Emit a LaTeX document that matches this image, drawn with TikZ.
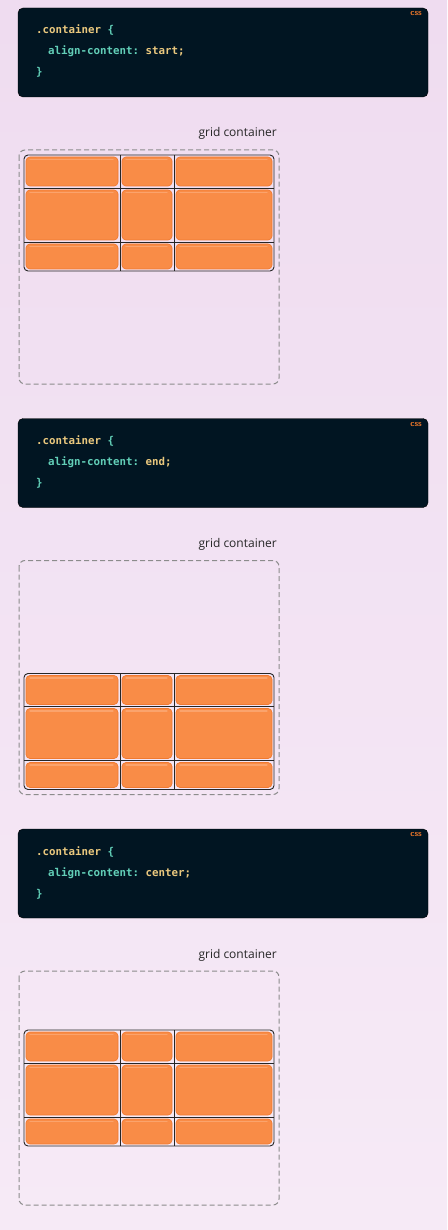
\documentclass[tikz,border=0pt]{standalone}
\usepackage{fontspec}
\setmainfont{Open Sans}
\setmonofont{DejaVu Sans Mono}
\definecolor{bgtop}{HTML}{EFDCF0}
\definecolor{bgbot}{HTML}{F6EAF6}
\definecolor{codebg}{HTML}{011522}
\definecolor{codeyel}{HTML}{EAC87E}
\definecolor{codeteal}{HTML}{62CFB8}
\definecolor{cssorange}{HTML}{F0782A}
\definecolor{itemorange}{HTML}{F98C47}
\definecolor{itemedge}{HTML}{F07A30}
\definecolor{itemlight}{HTML}{FBA36C}
\tikzset{
  codebox/.style={fill=codebg, rounded corners=5pt},
  codetxt/.style={anchor=base west, inner sep=0pt, font=\ttfamily\bfseries\fontsize{10.8}{12}\selectfont},
  csstag/.style={anchor=east, inner sep=0pt, text=cssorange, font=\sffamily\bfseries\fontsize{8.5}{9}\selectfont},
  gridlabel/.style={anchor=base east, inner sep=0pt, text=black!85, font=\fontsize{12}{14}\selectfont},
  gridbox/.style={draw=black!45, dash pattern=on 5pt off 3pt, rounded corners=6pt, line width=1pt},
  gridlines/.style={draw=black!85, line width=0.9pt},
  item/.style={fill=itemorange, draw=itemedge, rounded corners=4pt, line width=0.7pt},
  shine/.style={draw=itemlight, line width=1.3pt, line cap=round},
}
\begin{document}
\begin{tikzpicture}[x=1pt,y=-1pt]
  \useasboundingbox (0,0) rectangle (447,1230);
  \shade[top color=bgtop, bottom color=bgbot] (0,0) rectangle (447,1230);

  %%panels: offset / grid top inside the box / value
  \foreach \oy/\gtop/\val [evaluate=\oy as \gy using 150+\oy+\gtop] in
      {0/5/start, 410.5/113/end, 821/59/center}{
    %%code
    \draw[codebox] (18,8+\oy) rectangle (428,97+\oy);
    \node[csstag] (css-\val) at (422,14+\oy) {css};
    \node[codetxt] (sel-\val) at (36,34+\oy)
      {\textcolor{codeyel}{.container} \textcolor{codeteal}{\{}};
    \node[codetxt] (prop-\val) at (48,55+\oy)
      {\textcolor{codeteal}{align-content:} \textcolor{codeyel}{\val;}};
    \node[codetxt, text=codeteal] (close-\val) at (36,76+\oy) {\}};

    %%container
    \node[gridlabel] (lbl-\val) at (277,137+\oy) {grid container};
    \draw[gridbox] (19,150+\oy) rectangle (279,384+\oy);

    %%items
    \foreach \xa/\xb in {24/120, 120/174, 174/274}
      \foreach \ya/\yb in {0/33, 33/87, 87/116}{
        \draw[item] (\xa+2,\gy+\ya+2) rectangle (\xb-2,\gy+\yb-2);
        \draw[shine] (\xa+6,\gy+\ya+4.5) -- (\xb-7,\gy+\ya+4.5);
      }
    %%tracks
    \draw[gridlines, rounded corners=4pt] (24,\gy) rectangle (274,\gy+116);
      \draw[gridlines] (120,\gy) to (120,\gy+116);
      \draw[gridlines] (174,\gy) to (174,\gy+116);
      \draw[gridlines] (24,\gy+33) to (274,\gy+33);
      \draw[gridlines] (24,\gy+87) to (274,\gy+87);
  }
\end{tikzpicture}
\end{document}
